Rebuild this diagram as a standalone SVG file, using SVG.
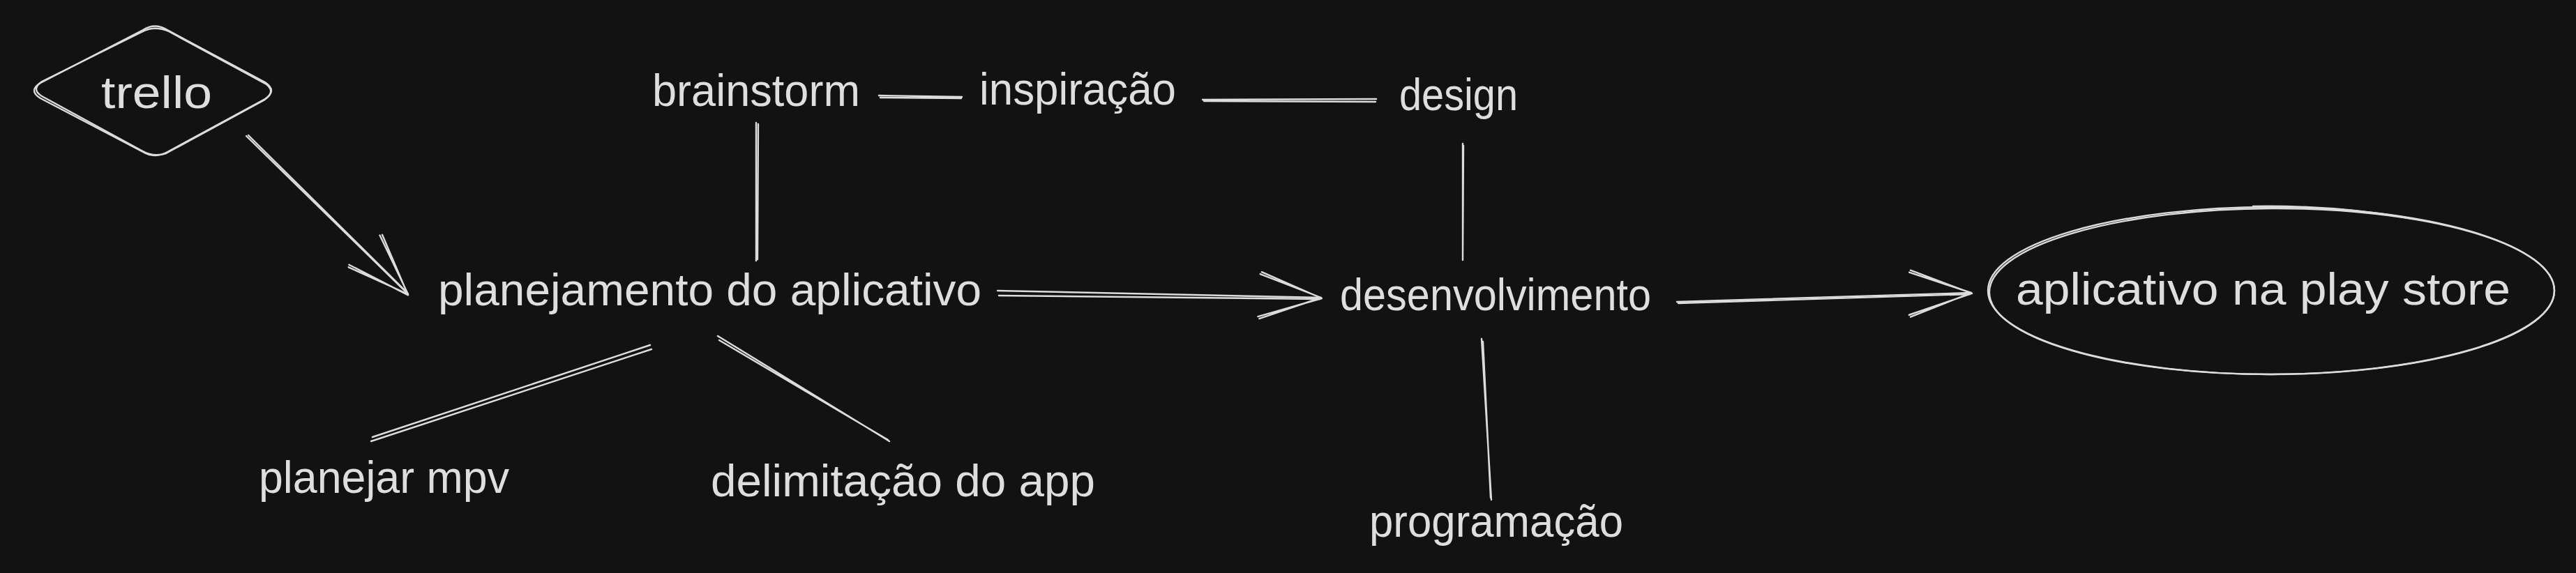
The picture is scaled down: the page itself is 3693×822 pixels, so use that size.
<svg xmlns="http://www.w3.org/2000/svg" width="3693" height="822" viewBox="0 0 3693 822">
<style>
.s{fill:none;stroke:#dcdcdc;stroke-width:2.4;stroke-linecap:round;stroke-linejoin:round}
.t{font-family:"Liberation Sans",Arial,sans-serif;font-size:64px;fill:#dedede}
</style>
<defs>
<marker id="ah" markerUnits="userSpaceOnUse" viewBox="-100 -50 110 100" markerWidth="110" markerHeight="100" refX="0" refY="0" orient="auto" overflow="visible">
<path class="s" d="M-88,-32 L0,0 L-88,32 M-86,-35 L1,1 L-90,29"/>
</marker>
</defs>
<rect width="3693" height="822" fill="#121212"/>
<g id="connectors">
<path class="s" d="M353,195 L585,422" marker-end="url(#ah)"/>
<path class="s" d="M356,194 L584,420"/>
<path class="s" d="M1084,176 L1084,374 M1087,178 L1086,372"/>
<path class="s" d="M1260,137 L1379,139 M1262,140 L1378,141"/>
<path class="s" d="M1724,143 L1973,142 M1726,145 L1972,146"/>
<path class="s" d="M2097,206 L2097,373 M2098,209 L2097,371"/>
<path class="s" d="M1430,417 L1894,427" marker-end="url(#ah)"/>
<path class="s" d="M1432,424 L1892,429"/>
<path class="s" d="M2404,433 L2826,420" marker-end="url(#ah)"/>
<path class="s" d="M2406,435 L2824,422"/>
<path class="s" d="M2124,486 L2138,717 M2126,490 L2137,714"/>
<path class="s" d="M932,495 L534,627 M934,501 L532,633"/>
<path class="s" d="M1029,482 L1275,633 M1031,488 L1273,631"/>
</g>
<g id="trello">
<path class="s" d="M205,43 Q222,32 240,43 L380,118 Q398,130 380,142 L240,218 Q222,228 205,218 L58,141 Q40,130 58,119 Z"/>
<path class="s" d="M203,46 Q221,36 242,45 L382,121 Q396,132 378,144 L238,220 Q220,226 203,216 L60,138 Q44,128 60,117 Z"/>
<text class="t" x="145" y="155" textLength="159" lengthAdjust="spacingAndGlyphs">trello</text>
</g>
<g id="planejamento">
<text class="t" x="628" y="438" textLength="779" lengthAdjust="spacingAndGlyphs">planejamento do aplicativo</text>
</g>
<g id="brainstorm">
<text class="t" x="935" y="152" textLength="298" lengthAdjust="spacingAndGlyphs">brainstorm</text>
</g>
<g id="inspiracao">
<text class="t" x="1404" y="150" textLength="282" lengthAdjust="spacingAndGlyphs">inspiração</text>
</g>
<g id="design">
<text class="t" x="2006" y="158" textLength="170" lengthAdjust="spacingAndGlyphs">design</text>
</g>
<g id="desenvolvimento">
<text class="t" x="1921" y="445" textLength="446" lengthAdjust="spacingAndGlyphs">desenvolvimento</text>
</g>
<g id="playstore">
<ellipse class="s" cx="3256" cy="417" rx="406" ry="120"/>
<ellipse class="s" cx="3257" cy="418" rx="405" ry="119" transform="rotate(-0.2 3257 418)"/>
<path class="s" d="M3230,296 Q3350,294 3460,314"/>
<text class="t" x="2890" y="437" textLength="709" lengthAdjust="spacingAndGlyphs">aplicativo na play store</text>
</g>
<g id="planejar-mpv">
<text class="t" x="371" y="707" textLength="359" lengthAdjust="spacingAndGlyphs">planejar mpv</text>
</g>
<g id="delimitacao">
<text class="t" x="1019" y="712" textLength="551" lengthAdjust="spacingAndGlyphs">delimitação do app</text>
</g>
<g id="programacao">
<text class="t" x="1963" y="770" textLength="364" lengthAdjust="spacingAndGlyphs">programação</text>
</g>
</svg>
